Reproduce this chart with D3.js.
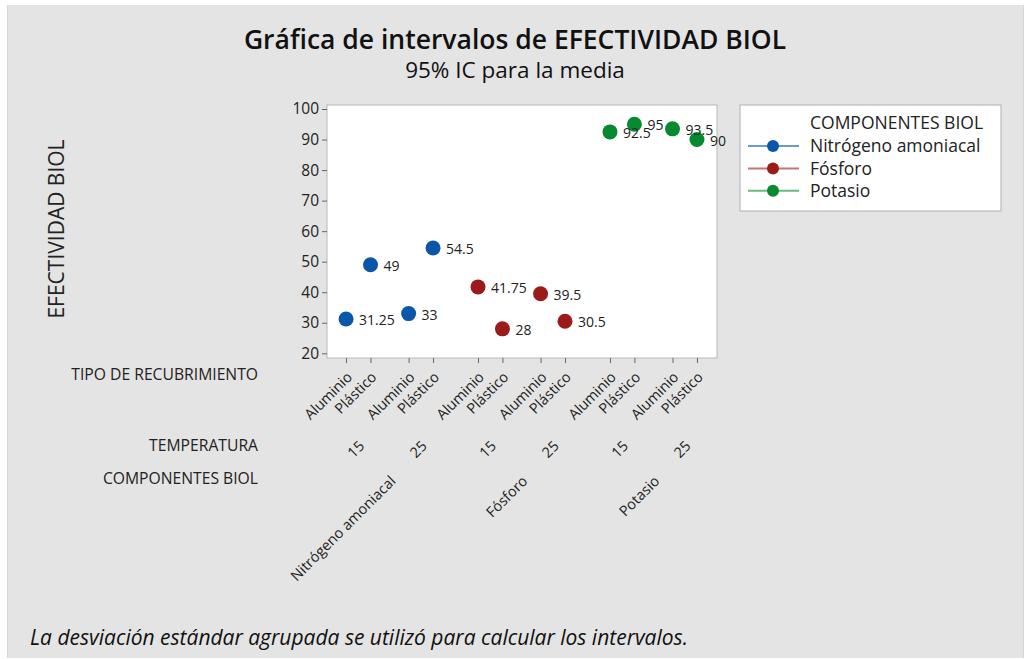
<!DOCTYPE html>
<html>
<head>
<meta charset="utf-8">
<script src="https://cdn.jsdelivr.net/npm/d3@7"></script>
<style>
  html, body { margin: 0; padding: 0; background: #ffffff; }
  svg { display: block; font-family: "Open Sans", "Noto Sans", sans-serif; }
</style>
</head>
<body>
<svg id="chart" width="1026" height="659"></svg>
<script>
// Interval plot of biol effectiveness by component, temperature and covering type
const components = ["Nitrógeno amoniacal", "Fósforo", "Potasio"];
const temperatures = ["15", "25"];
const coverings = ["Aluminio", "Plástico"];

// Means per component, ordered 15/Aluminio, 15/Plástico, 25/Aluminio, 25/Plástico
const nitrogenoMeans = [31.25, 49, 33, 54.5];
const fosforoMeans = [41.75, 28, 39.5, 30.5];
const potasioMeans = [92.5, 95, 93.5, 90];

const yTicks = [20, 30, 40, 50, 60, 70, 80, 90, 100];
const colors = ["#0a56a8", "#9b1b1b", "#078a2f"];

const seriesMeans = [nitrogenoMeans, fosforoMeans, potasioMeans];

// Flatten into one row per cell of the nested x axis
const cells = [];
components.forEach((comp, ci) => {
  temperatures.forEach((temp, ti) => {
    coverings.forEach((cov, vi) => {
      const i = ci * 4 + ti * 2 + vi;
      cells.push({
        comp, ci, temp, ti, cov, vi,
        value: seriesMeans[ci][ti * 2 + vi],
        // slot position with extra gaps between temperature and component groups
        pos: i + 0.56 * (ci + ti) + 0.84 * ci
      });
    });
  });
});

const svg = d3.select("#chart");

// page background
svg.append("rect").attr("x", 7).attr("y", 5).attr("width", 1017).attr("height", 653)
  .attr("fill", "#e4e4e4");
svg.append("line").attr("x1", 7.5).attr("x2", 7.5).attr("y1", 5).attr("y2", 658)
  .attr("stroke", "#d6d6d6");
svg.append("line").attr("x1", 1023.5).attr("x2", 1023.5).attr("y1", 5).attr("y2", 658)
  .attr("stroke", "#d6d6d6");

// plot frame
const frame = { left: 327, right: 717, top: 105, bottom: 358 };

const x = d3.scaleLinear().domain([-0.78, 15.18]).range([frame.left, frame.right]);
const y = d3.scaleLinear().domain([20, 100]).range([353.3, 109]);

svg.append("rect")
  .attr("x", frame.left).attr("y", frame.top)
  .attr("width", frame.right - frame.left).attr("height", frame.bottom - frame.top)
  .attr("fill", "#ffffff").attr("stroke", "#b8b8b8").attr("stroke-width", 1);

// y axis
const yAxis = d3.axisLeft(y).tickValues(yTicks).tickSize(5).tickPadding(3);
const gy = svg.append("g").attr("transform", `translate(${frame.left},0)`).call(yAxis);
gy.select(".domain").remove();
gy.selectAll(".tick line").attr("stroke", "#666");
gy.selectAll(".tick text").attr("font-size", 15.5).attr("fill", "#222")
  .attr("font-family", "Open Sans, sans-serif");

// x axis: tick marks only, labels drawn below in nested rows
const xAxis = d3.axisBottom(x).tickValues(cells.map(d => d.pos)).tickSize(5).tickFormat("");
const gx = svg.append("g").attr("transform", `translate(0,${frame.bottom})`).call(xAxis);
gx.select(".domain").remove();
gx.selectAll(".tick line").attr("stroke", "#666");

// covering type labels
svg.append("g").selectAll("text").data(cells).join("text")
  .attr("transform", d => `translate(${x(d.pos) + 7},${frame.bottom + 20}) rotate(-45)`)
  .attr("text-anchor", "end")
  .attr("font-size", 14.5).attr("fill", "#222")
  .text(d => d.cov);

// temperature labels, centred on each pair
const tempGroups = d3.groups(cells, d => d.ci, d => d.ti).flatMap(([ci, g]) =>
  g.map(([ti, arr]) => ({ label: arr[0].temp, pos: d3.mean(arr, d => d.pos) })));
svg.append("g").selectAll("text").data(tempGroups).join("text")
  .attr("transform", d => `translate(${x(d.pos) + 7},${frame.bottom + 89}) rotate(-45)`)
  .attr("text-anchor", "end")
  .attr("font-size", 14.5).attr("fill", "#222")
  .text(d => d.label);

// component labels, centred on each group of four
const compGroups = d3.groups(cells, d => d.ci).map(([ci, arr]) =>
  ({ label: arr[0].comp, pos: d3.mean(arr, d => d.pos) }));
svg.append("g").selectAll("text").data(compGroups).join("text")
  .attr("transform", d => `translate(${x(d.pos) + 7},${frame.bottom + 124}) rotate(-45)`)
  .attr("text-anchor", "end")
  .attr("font-size", 14.5).attr("fill", "#222")
  .text(d => d.label);

// row headings for the nested axis
const rowHeads = [
  { text: "TIPO DE RECUBRIMIENTO", y: 379.7 },
  { text: "TEMPERATURA", y: 450.7 },
  { text: "COMPONENTES BIOL", y: 483.7 }
];
svg.append("g").selectAll("text").data(rowHeads).join("text")
  .attr("x", 258).attr("y", d => d.y)
  .attr("text-anchor", "end").attr("font-size", 15.7).attr("fill", "#222")
  .text(d => d.text);

// y axis title
svg.append("text")
  .attr("transform", "translate(64,229) rotate(-90)")
  .attr("text-anchor", "middle").attr("font-size", 21).attr("fill", "#222")
  .text("EFECTIVIDAD BIOL");

// mean markers and value labels
const marks = svg.append("g");
marks.selectAll("circle").data(cells).join("circle")
  .attr("cx", d => x(d.pos)).attr("cy", d => y(d.value))
  .attr("r", 7.5).attr("fill", d => colors[d.ci]);
marks.selectAll("text").data(cells).join("text")
  .attr("x", d => x(d.pos) + 13).attr("y", d => y(d.value) + 6)
  .attr("font-size", 14).attr("fill", "#222")
  .text(d => d3.format("~g")(d.value));

// titles
svg.append("text").attr("x", 515).attr("y", 49).attr("text-anchor", "middle")
  .attr("font-size", 26.5).attr("font-weight", 600).attr("fill", "#111")
  .text("Gráfica de intervalos de EFECTIVIDAD BIOL");
svg.append("text").attr("x", 515).attr("y", 78).attr("text-anchor", "middle")
  .attr("font-size", 22.5).attr("fill", "#111")
  .text("95% IC para la media");

// legend
const lg = svg.append("g").attr("transform", "translate(740,105)");
lg.append("rect").attr("width", 261).attr("height", 106)
  .attr("fill", "#ffffff").attr("stroke", "#b0b0b0");
lg.append("text").attr("x", 70).attr("y", 24.3).attr("font-size", 17.5).attr("fill", "#222")
  .text("COMPONENTES BIOL");
const items = lg.selectAll("g.item").data(components).join("g")
  .attr("class", "item")
  .attr("transform", (d, i) => `translate(0,${41 + i * 22.4})`);
items.append("line").attr("x1", 8).attr("x2", 59).attr("y1", 0).attr("y2", 0)
  .attr("stroke", (d, i) => colors[i]).attr("stroke-width", 2).attr("stroke-opacity", 0.6);
items.append("circle").attr("cx", 33).attr("cy", 0).attr("r", 6)
  .attr("fill", (d, i) => colors[i]);
items.append("text").attr("x", 70).attr("y", 6.3).attr("font-size", 17.5).attr("fill", "#222")
  .text(d => d);

// footnote
svg.append("text").attr("x", 30).attr("y", 644.5)
  .attr("font-size", 21).attr("font-style", "italic").attr("fill", "#111")
  .text("La desviación estándar agrupada se utilizó para calcular los intervalos.");
</script>
</body>
</html>
